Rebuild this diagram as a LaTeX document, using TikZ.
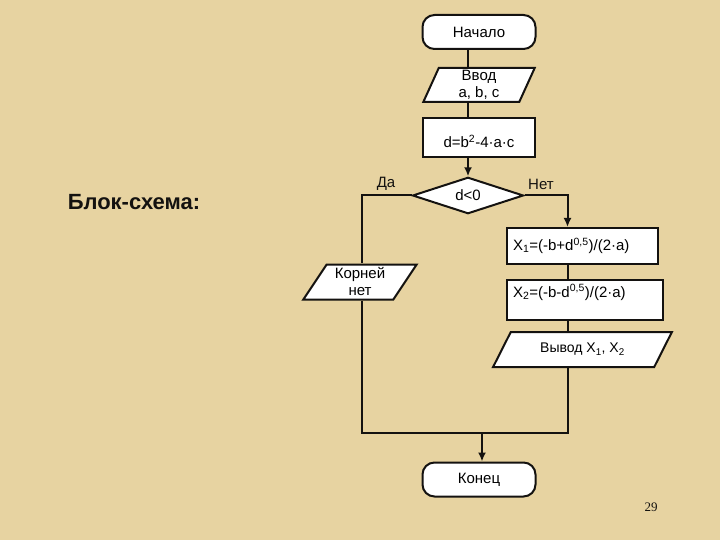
\documentclass[tikz,border=0pt]{standalone}
\usepackage{fontspec}
\setmainfont{Liberation Sans}
\newfontfamily\numfont{Liberation Serif}
\usetikzlibrary{arrows.meta,positioning,calc,shapes.geometric}
\definecolor{parch}{RGB}{231,211,161}
\definecolor{inkblk}{RGB}{20,18,16}
\tikzset{
  termbox/.style={rounded corners=12pt, draw=inkblk, fill=white, line width=2pt,
               minimum width=113pt, minimum height=34pt, inner sep=0pt, font=\fontsize{15}{17}\selectfont},
  procbox/.style={rectangle, draw=inkblk, fill=white, line width=2pt,
               inner sep=0pt, font=\fontsize{15}{17}\selectfont},
  iobox/.style={trapezium, trapezium stretches=true, draw=inkblk, fill=white, line width=2pt,
               inner sep=0pt, align=center, font=\fontsize{15}{17}\selectfont},
  ifbox/.style={diamond, draw=inkblk, fill=white, line width=2pt, inner sep=0pt,
               minimum width=111pt, minimum height=35pt, font=\fontsize{15}{17}\selectfont},
  flow/.style={line width=2pt, draw=inkblk},
  flowa/.style={-{Latex[length=9pt,width=8pt]}, line width=2pt, draw=inkblk},
  lbl/.style={font=\fontsize{15}{17}\selectfont, text=inkblk},
}
\begin{document}
\begin{tikzpicture}[x=1pt, y=-1pt]
    \fill[parch] (0,0) rectangle (720,540);
    \useasboundingbox (0,0) rectangle (720,540);

    \node[font=\fontsize{22}{24}\selectfont\bfseries, text=inkblk] (title) at (134,202) {Блок-схема:};

    \node[termbox] (start) at (479,32) {Начало};
    \node[iobox, trapezium left angle=75, trapezium right angle=105,
          minimum width=112pt, minimum height=34pt] (inp) at (479,85) {Ввод\\a, b, c};
    \node[procbox, minimum width=112pt, minimum height=39pt,
          text height=24pt, text depth=4pt] (disc) at (479,137.5) {d=b\textsuperscript{2}-4·a·c};
    \node[ifbox] (test) at (468,195.5) {d<0};
    \node[lbl] (yes) at (386,184) {Да};
    \node[lbl] (no) at (541,184) {Нет};

    % left branch
    \coordinate (lax) at (362,0);
    \node[iobox, trapezium left angle=58, trapezium right angle=122,
          minimum width=114pt, minimum height=35pt] (noroot) at (360,282) {Корней\\нет};

    % right branch
    \coordinate (rax) at (567.5,0);
    \node[procbox, align=left, text width=139pt, inner xsep=6pt, minimum height=36pt]
          (xone) at (582.5,246) {X\textsubscript{1}=(-b+d\textsuperscript{0,5})/(2·a)};
    \node[procbox, align=left, text width=144pt, inner xsep=6pt, minimum height=40pt,
          text height=10pt, text depth=16pt]
          (xtwo) at (585,300) {X\textsubscript{2}=(-b-d\textsuperscript{0,5})/(2·a)};
    \node[iobox, trapezium left angle=50, trapezium right angle=130,
          minimum width=179pt, minimum height=35pt, font=\fontsize{14}{16}\selectfont]
          (outp) at (582.5,349.5) {Вывод X\textsubscript{1}, X\textsubscript{2}};

    \coordinate (join) at (482,433);
    \node[termbox] (stop) at (479,479.5) {Конец};

    \node[font=\numfont\fontsize{13}{14}\selectfont, text=inkblk] (page) at (651,507) {29};

    \draw[flow] (start.south -| test.north) -- (inp.north -| test.north);
    \draw[flow] (inp.south -| test.north) -- (disc.north -| test.north);
    \draw[flowa] (disc.south -| test.north) -- (test.north);
    \draw[flow] (test.west) -| (noroot.north -| lax);
    \draw[flowa] (test.east) -| (xone.north -| rax);
    \draw[flow] (xone.south -| rax) -- (xtwo.north -| rax);
    \draw[flow] (xtwo.south -| rax) -- (outp.north -| rax);
    \draw[flow] (outp.south -| rax) |- (join);
    \draw[flow] (noroot.south -| lax) |- (join);
    \draw[flowa] (join) -- (stop.north -| join);
\end{tikzpicture}
\end{document}
